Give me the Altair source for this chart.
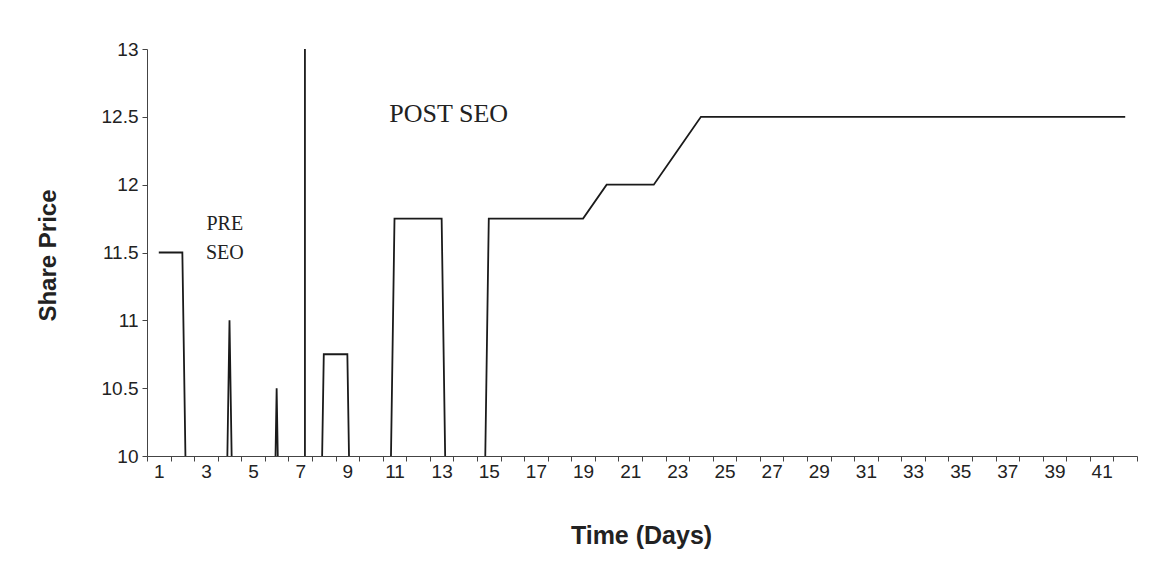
import altair as alt
import pandas as pd

# ---- data ----
days = list(range(1, 43))
prices = [11.5, 11.5, 0, 11, 0, 10.5, 0, 10.75, 10.75, 0,
          11.75, 11.75, 11.75, 0, 11.75, 11.75, 11.75, 11.75, 11.75, 12,
          12, 12, 12.25, 12.5, 12.5, 12.5, 12.5, 12.5, 12.5, 12.5,
          12.5, 12.5, 12.5, 12.5, 12.5, 12.5, 12.5, 12.5, 12.5, 12.5,
          12.5, 12.5]
y_ticks = [10, 10.5, 11, 11.5, 12, 12.5, 13]
x_label_days = list(range(1, 42, 2))
band_edges = [d - 0.5 for d in range(1, 44)]

sep_day = [7.2]
note_text = ["PRE", "SEO", "POST SEO"]
note_day = [3.8, 3.8, 13.3]
note_price = [11.71, 11.5, 12.52]
note_size = [20, 20, 26]

df = pd.DataFrame({"day": days, "price": prices})
sep_df = pd.DataFrame({"day": sep_day, "lo": [10], "hi": [13]})
note_df = pd.DataFrame({"text": note_text, "day": note_day,
                        "price": note_price, "size": note_size})

x_scale = alt.Scale(domain=[0.5, 42.5], nice=False, zero=False)
y_scale = alt.Scale(domain=[10, 13], nice=False, zero=False)

axis_col = "#444444"
font = "Liberation Sans"

x_axis = alt.Axis(
    values=sorted(band_edges + x_label_days), tickCount=200,
    labelExpr="datum.value % 2 === 1 ? '' + datum.value : ''",
    tickOpacity={"condition": {"test": "datum.value % 1 === 0", "value": 0}, "value": 1},
    labelOverlap=False, labelFlush=False, grid=False,
    tickSize=5, tickColor=axis_col, domainColor=axis_col,
    labelFont=font, labelFontSize=19, labelColor="#222222", labelPadding=1,
    title="Time (Days)", titleFont=font, titleFontSize=25, titleFontWeight="bold",
    titleColor="#222222", titleX=494, titleY=79, titleBaseline="middle", titleAlign="center",
)
y_axis = alt.Axis(
    values=y_ticks, tickCount=50, labelExpr="'' + datum.value", grid=False,
    tickSize=5, tickColor=axis_col, domainColor=axis_col,
    labelFont=font, labelFontSize=19, labelColor="#222222", labelPadding=4,
    title="Share Price", titleFont=font, titleFontSize=24, titleFontWeight="bold",
    titleColor="#222222", titleX=-99, titleY=206, titleBaseline="middle", titleAlign="center",
    titleAngle=270,
)

line = alt.Chart(df).mark_line(clip=True, color="#1a1a1a", strokeWidth=1.8).encode(
    x=alt.X("day:Q", scale=x_scale, axis=x_axis),
    y=alt.Y("price:Q", scale=y_scale, axis=y_axis),
)

sep = alt.Chart(sep_df).mark_rule(color="#1a1a1a", strokeWidth=1.8).encode(
    x=alt.X("day:Q", scale=x_scale),
    y=alt.Y("lo:Q", scale=y_scale),
    y2="hi:Q",
)

notes = alt.Chart(note_df).mark_text(
    font="Liberation Serif", color="#222222", align="center", baseline="middle"
).encode(
    x=alt.X("day:Q", scale=x_scale),
    y=alt.Y("price:Q", scale=y_scale),
    text="text:N",
    size=alt.Size("size:Q", scale=None, legend=None),
)

chart = alt.layer(line, sep, notes).properties(
    width=990, height=407,
    autosize=alt.AutoSizeParams(type="none"),
    padding={"left": 139, "top": 41, "right": 5, "bottom": 100},
    background="white",
).configure_view(stroke=None)

chart.save("out.html", embed_options={"renderer": "svg", "actions": False})
